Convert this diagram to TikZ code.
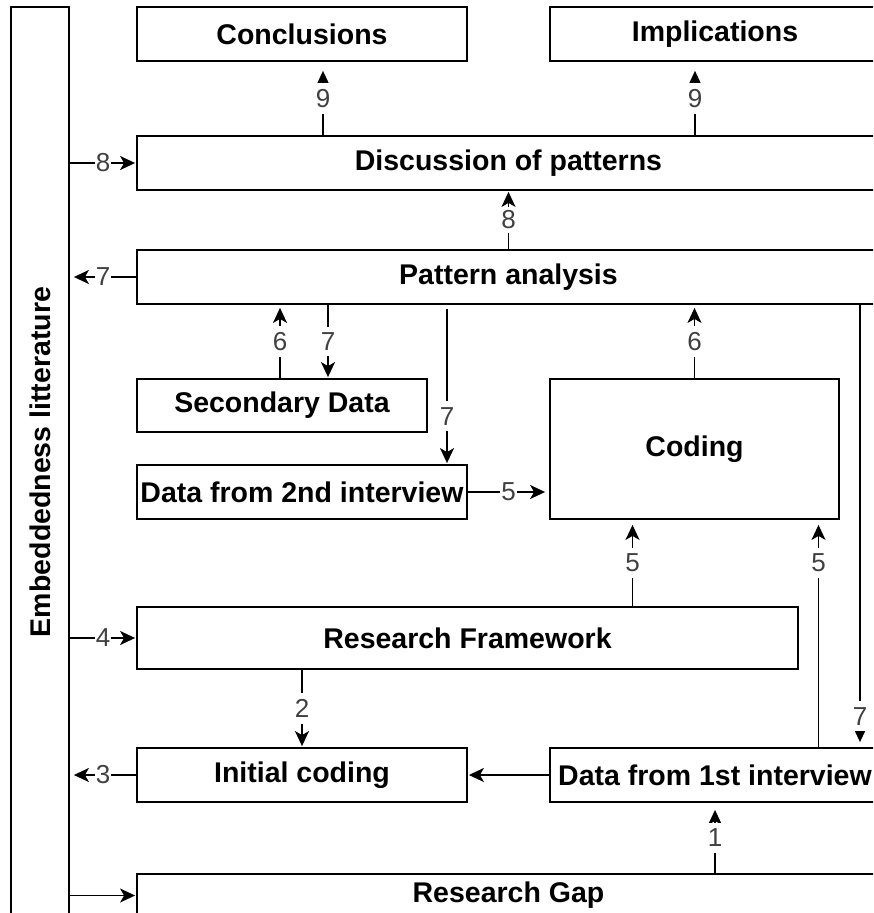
\documentclass[tikz,border=0pt]{standalone}
\usepackage{fontspec}
\setmainfont{Liberation Sans}
\usetikzlibrary{arrows.meta}
\tikzset{box/.style = {shape = rectangle, draw, line width = 1.8pt, inner sep = 0pt, font = \fontsize{28.5}{34}\selectfont\bfseries}}
\tikzset{edge/.style = {-{Stealth[length = 15pt, width = 14pt, inset = 4pt]}, line width = 1.8pt, shorten > = 1pt}}
\tikzset{num/.style = {fill = white, text = black!75, inner xsep = 1pt, inner ysep = 6pt, font = \fontsize{26}{31}\selectfont}}

\begin{document}
\begin{tikzpicture}[x = 1pt, y = -1pt]
	\useasboundingbox (0, 0) rectangle (873, 913);
	\clip (0, 0) rectangle (873, 913);

	\node[box, rotate = 90, minimum width = 910pt, minimum height = 58pt] (lit) at (40, 462) {Embeddedness litterature};
	\node[box, minimum width = 330pt, minimum height = 54pt] (concl) at (302, 34) {Conclusions};
	\node[box, minimum width = 330pt, minimum height = 54pt] (impl) at (715, 34) {Implications};
	\node[box, minimum width = 743pt, minimum height = 54pt] (disc) at (508.5, 163) {Discussion of patterns};
	\node[box, minimum width = 743pt, minimum height = 54pt] (patt) at (508.5, 277) {Pattern analysis};
	\node[box, minimum width = 290pt, minimum height = 53pt] (sec) at (282, 405.5) {Secondary Data};
	\node[box, minimum width = 330pt, minimum height = 54pt] (dat2) at (302, 492) {Data from 2nd interview};
	\node[box, minimum width = 289pt, minimum height = 140pt] (cod) at (694.5, 449) {Coding};
	\node[box, minimum width = 661pt, minimum height = 62pt] (frame) at (467.5, 638) {Research Framework};
	\node[box, minimum width = 330pt, minimum height = 54pt] (init) at (302, 775) {Initial coding};
	\node[box, minimum width = 330pt, minimum height = 54pt] (dat1) at (715, 775) {Data from 1st interview};
	\node[box, minimum width = 743pt, minimum height = 43pt] (gap) at (508.5, 895.5) {Research Gap};

	\draw[edge, shorten > = 9pt] ([xshift = 21pt]concl.south |- disc.north) -- node[num] {9} ([xshift = 21pt]concl.south);
	\draw[edge, shorten > = 9pt] ([xshift = -20pt]impl.south |- disc.north) -- node[num] {9} ([xshift = -20pt]impl.south);
	\draw[edge] (lit.south |- disc.west) -- node[num] {8} (disc.west);
	\draw[edge] (patt.north) -- node[num, inner ysep = 4pt] {8} (disc.south);
	\draw[edge, shorten > = 4pt] (patt.west) -- node[num] {7} (lit.south |- patt.west);
	\draw[edge, shorten > = 3pt] ([xshift = -2pt]sec.north) -- node[num] {6} ([xshift = -2pt]sec.north |- patt.south);
	\draw[edge] ([xshift = 46pt]sec.north |- patt.south) -- node[num] {7} ([xshift = 46pt]sec.north);
	\draw[edge, shorten < = 4pt] ([xshift = 145pt]dat2.north |- patt.south) -- node[num, pos = 0.7] {7} ([xshift = 145pt]dat2.north);
	\draw[edge, shorten > = 3pt] (cod.north) -- node[num] {6} (cod.north |- patt.south);
	\draw[edge, shorten > = 4pt] (dat2.east) -- node[num] {5} (dat2.east -| cod.west);
	\draw[edge, shorten > = 5pt] ([xshift = -62pt]cod.south |- frame.north) -- node[num] {5} ([xshift = -62pt]cod.south);
	\draw[edge, shorten > = 5pt] ([xshift = 124pt]cod.south |- dat1.north) -- node[num, pos = 0.81] {5} ([xshift = 124pt]cod.south);
	\draw[edge, shorten > = 5pt] ([xshift = 145pt]dat1.north |- patt.south) -- node[num, pos = 0.93] {7} ([xshift = 145pt]dat1.north);
	\draw[edge] (lit.south |- frame.west) -- node[num] {4} (frame.west);
	\draw[edge] (init.north |- frame.south) -- node[num] {2} (init.north);
	\draw[edge, shorten > = 4pt] (init.west) -- node[num] {3} (lit.south |- init.west);
	\draw[edge] (dat1.west) -- (init.east);
	\draw[edge, shorten > = 7pt] (gap.north -| dat1.south) -- node[num] {1} (dat1.south);
	\draw[edge] (lit.south |- gap.west) -- (gap.west);
\end{tikzpicture}
\end{document}
